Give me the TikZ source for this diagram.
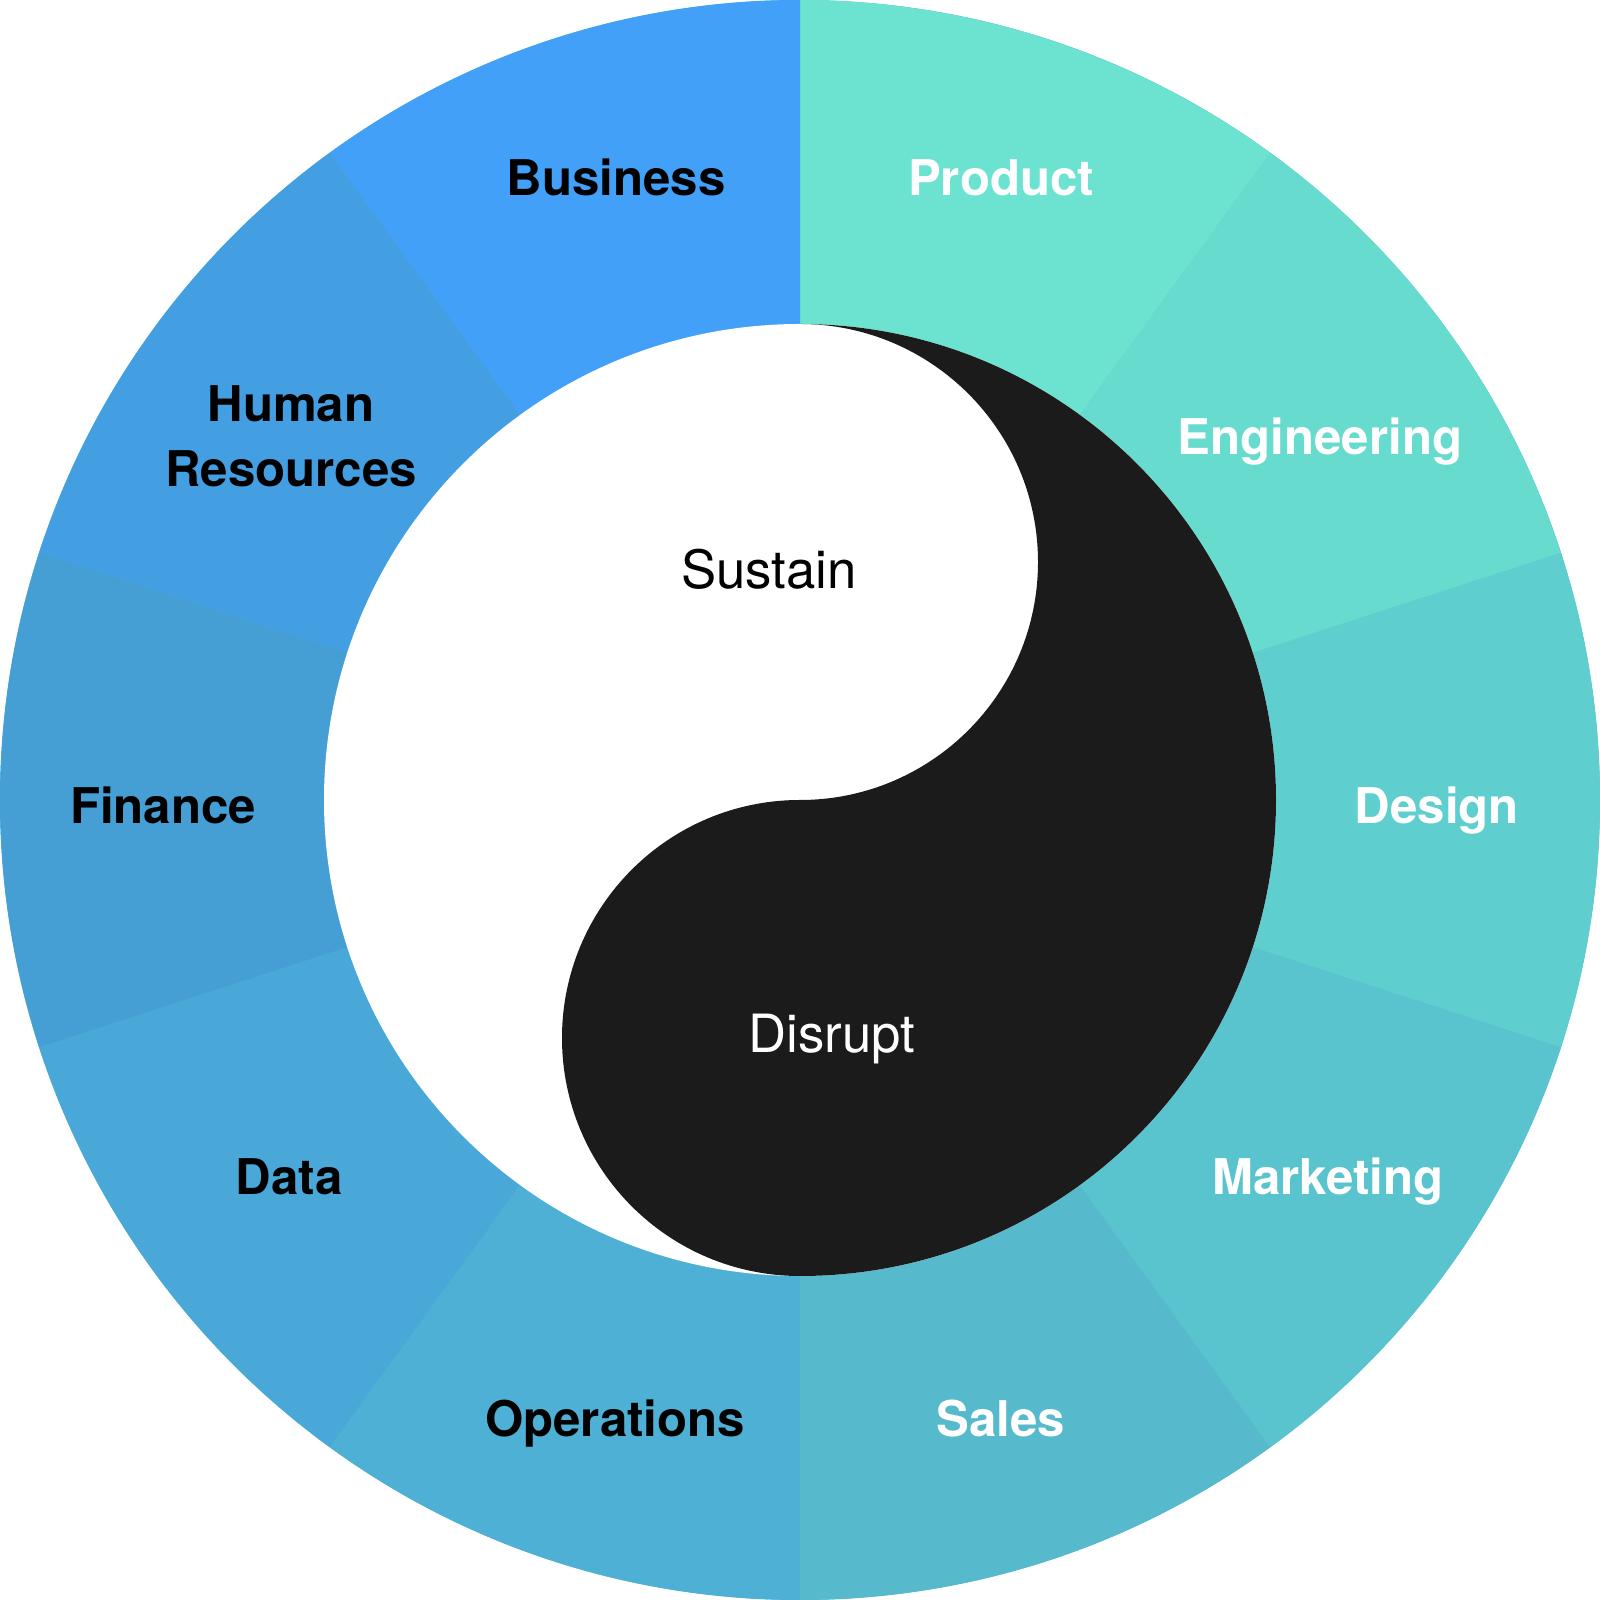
\documentclass[tikz,border=0pt]{standalone}
\usepackage{fontspec}
\setmainfont{TeX Gyre Heros}
\definecolor{cBusiness}{HTML}{42A0F8}
\definecolor{cHR}{HTML}{439FE2}
\definecolor{cFinance}{HTML}{459ED4}
\definecolor{cData}{HTML}{4AA8D8}
\definecolor{cOperations}{HTML}{4FB0D5}
\definecolor{cSales}{HTML}{56BACC}
\definecolor{cMarketing}{HTML}{5AC4CE}
\definecolor{cDesign}{HTML}{5ECFCE}
\definecolor{cEngineering}{HTML}{66DBCE}
\definecolor{cProduct}{HTML}{6BE3D0}
\definecolor{ink}{HTML}{1B1B1B}

\begin{document}
\begin{tikzpicture}[dept/.style={font=\fontsize{14}{18.5}\selectfont\bfseries, align=center, text height=10pt, text depth=0pt, inner sep=0pt},
                    darklabel/.style={dept, text=black},
                    lightlabel/.style={dept, text=white},
                    side/.style={font=\fontsize{15}{18}\selectfont, text height=10.8pt, text depth=0pt, inner sep=0pt}]
                    \useasboundingbox (-8,-8) rectangle (8,8);

                    \fill[cDesign!50!cFinance] (0,0) circle (8);
                    \foreach \a/\c in {-162/cData, -126/cOperations, -90/cSales, -54/cMarketing, -18/cDesign,
                                       18/cEngineering, 54/cProduct, 90/cBusiness, 126/cHR, 162/cFinance}
                        \fill[\c] (0,0) -- (\a:8) arc (\a:\a+36:8) -- cycle;

                    \fill[white] (0,0) circle (4.76);
                    \fill[ink] (0,4.76) arc[start angle=90, end angle=-90, radius=4.76]
                        arc[start angle=-90, end angle=-270, radius=2.38]
                        arc[start angle=-90, end angle=90, radius=2.38] -- cycle;

                    \node[darklabel] (business) at (-1.84,6.22) {Business};
                    \node[lightlabel] (product) at (2.01,6.22) {Product};
                    \node[lightlabel] (engineering) at (5.20,3.63) {Engineering};
                    \node[lightlabel] (design) at (6.37,-0.06) {Design};
                    \node[lightlabel] (marketing) at (5.28,-3.77) {Marketing};
                    \node[lightlabel] (sales) at (2.01,-6.19) {Sales};
                    \node[darklabel] (operations) at (-1.85,-6.19) {Operations};
                    \node[darklabel] (data) at (-5.11,-3.77) {Data};
                    \node[darklabel] (finance) at (-6.37,-0.06) {Finance};
                    \node[darklabel] (hr) at (-5.09,3.31) {Human\\Resources};

                    \node[side, text=black] (sustain) at (-0.31,2.30) {Sustain};
                    \node[side, text=white] (disrupt) at (0.32,-2.34) {Disrupt};
                \end{tikzpicture}
\end{document}
